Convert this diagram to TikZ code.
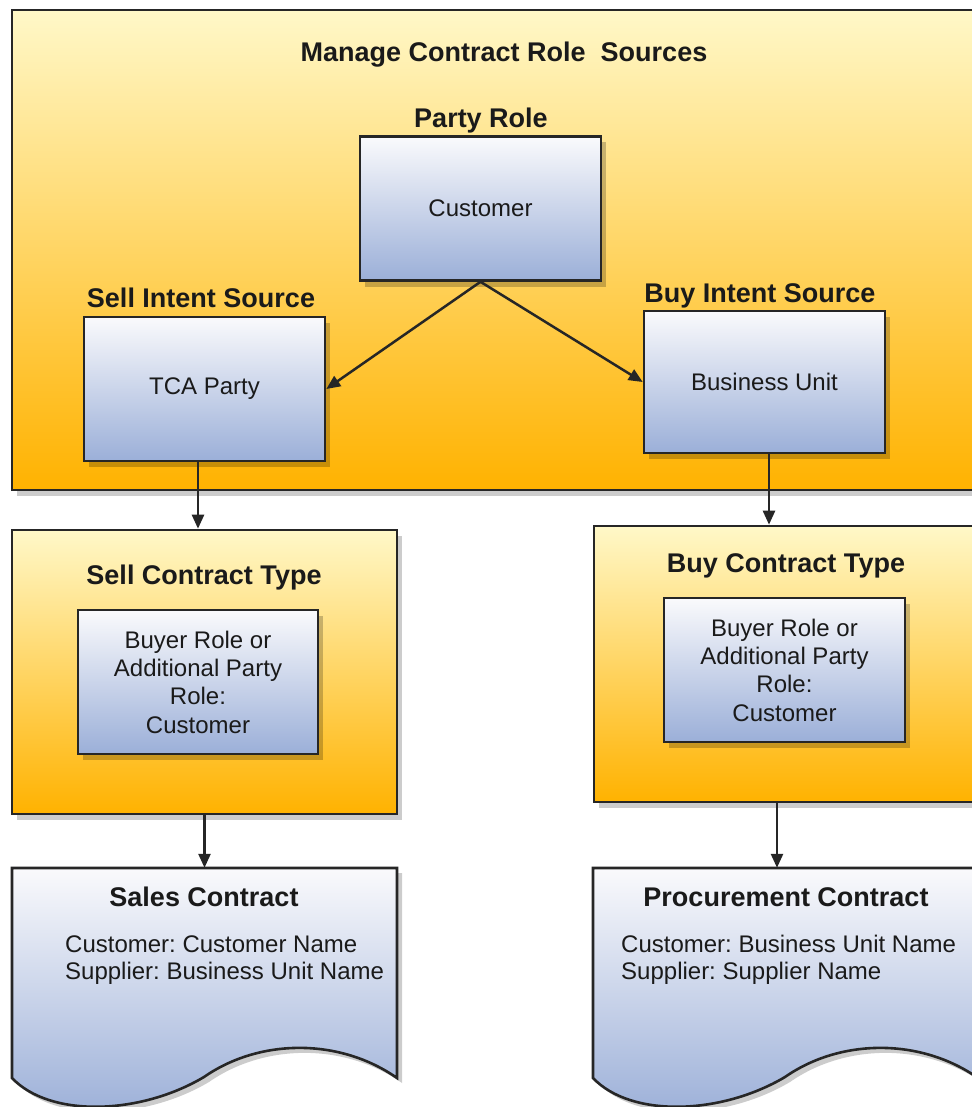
\documentclass[tikz,border=0pt]{standalone}
\usepackage{fontspec}
\setmainfont{Liberation Sans}
\frenchspacing
\usetikzlibrary{arrows.meta,shadows}
\definecolor{ylTop}{HTML}{FFF8C8}
\definecolor{ylBot}{HTML}{FFB200}
\definecolor{blTop}{HTML}{FAFAFC}
\definecolor{blBot}{HTML}{9BAFD8}
\definecolor{edgec}{HTML}{262626}
\definecolor{ink}{HTML}{1A1A1A}
\newcommand{\docoutline}{(0,0) -- (385,0) -- (385,210) .. controls (328,170) and (248,170) .. (192,209) .. controls (128,247) and (38,250) .. (0,210) -- cycle}
\tikzset{
  groupbox/.style={draw=edgec, line width=2.6pt, top color=ylTop, bottom color=ylBot, inner sep=0pt,
    drop shadow={shadow xshift=5pt, shadow yshift=-6pt, fill=black, opacity=0.2}},
  itembox/.style={draw=edgec, line width=2.6pt, top color=blTop, bottom color=blBot, inner sep=0pt,
    align=center, text=ink, font=\fontsize{24}{28.3}\selectfont,
    minimum width=241pt, minimum height=144pt,
    drop shadow={shadow xshift=5pt, shadow yshift=-6pt, fill=black, opacity=0.22}},
  head/.style={font=\fontsize{27}{30}\selectfont\bfseries, text=ink, inner sep=0pt, text height=19.5pt, text depth=0pt},
  body/.style={font=\fontsize{24}{27}\selectfont, text=ink, inner sep=0pt, align=left},
  arr/.style={line width=2.5pt, draw=edgec, -{Triangle[length=14pt,width=12pt]}},
  docfill/.style={draw=edgec, line width=2.6pt, top color=blTop, bottom color=blBot},
  docshadow/.style={fill=black, opacity=0.2},
}
\begin{document}
\begin{tikzpicture}[x=1pt,y=-1pt]
\useasboundingbox (0,0) rectangle (971,1107);

% main group
\node[groupbox, minimum width=963pt, minimum height=480pt] (mcrs) at (493.5,250) {};
\node[head] (mcrsT) at (504,52) {Manage Contract Role~~Sources};

\node[head] (partyT) at (481,118) {Party Role};
\node[itembox] (party) at (480.5,208.5) {Customer};

\node[head] (sellT) at (201,298) {Sell Intent Source};
\node[itembox] (tca) at (204.5,389) {TCA Party};

\node[head] (buyT) at (760,293) {Buy Intent Source};
\node[itembox, minimum height=142pt] (bu) at (764.5,382) {Business Unit};

% contract types
\node[groupbox, minimum width=385pt, minimum height=284pt] (sct) at (204.5,672) {};
\node[head] (sctT) at (204,575) {Sell Contract Type};
\node[itembox, minimum width=240pt] (sctIn) at (198,682) {Buyer Role or\\Additional Party\\Role:\\Customer};

\node[groupbox, minimum width=385pt, minimum height=276pt] (bct) at (786.5,664) {};
\node[head] (bctT) at (786,563) {Buy Contract Type};
\node[itembox] (bctIn) at (784.5,670) {Buyer Role or\\Additional Party\\Role:\\Customer};

% documents
\begin{scope}[shift={(12,868)}]
  \fill[docshadow, shift={(5,5)}] \docoutline;
  \path[docfill] \docoutline;
\end{scope}
\node[minimum width=385pt, minimum height=210pt, inner sep=0pt] (sales) at (204.5,973) {};
\node[head] (salesT) at (204,897) {Sales Contract};
\node[body, anchor=west] (salesB) at (65,960) {Customer: Customer Name\\Supplier: Business Unit Name};

\begin{scope}[shift={(593,868)}]
  \fill[docshadow, shift={(5,5)}] \docoutline;
  \path[docfill] \docoutline;
\end{scope}
\node[minimum width=385pt, minimum height=210pt, inner sep=0pt] (proc) at (785.5,973) {};
\node[head] (procT) at (786,897) {Procurement Contract};
\node[body, anchor=west] (procB) at (621,960) {Customer: Business Unit Name\\Supplier: Supplier Name};

% connectors
\draw[arr] (party.south) -- (tca.east);
\draw[arr] (party.south) -- (bu.west);
\draw[arr] ([xshift=-6.5pt]tca.south) -- ([xshift=-6.5pt]tca.south |- sct.north);
\draw[arr] ([xshift=4.5pt]bu.south) -- ([xshift=4.5pt]bu.south |- bct.north);
\draw[arr] (sct.south) -- (sct.south |- sales.north);
\draw[arr] ([xshift=-9.5pt]bct.south) -- ([xshift=-9.5pt]bct.south |- proc.north);
\end{tikzpicture}
\end{document}
